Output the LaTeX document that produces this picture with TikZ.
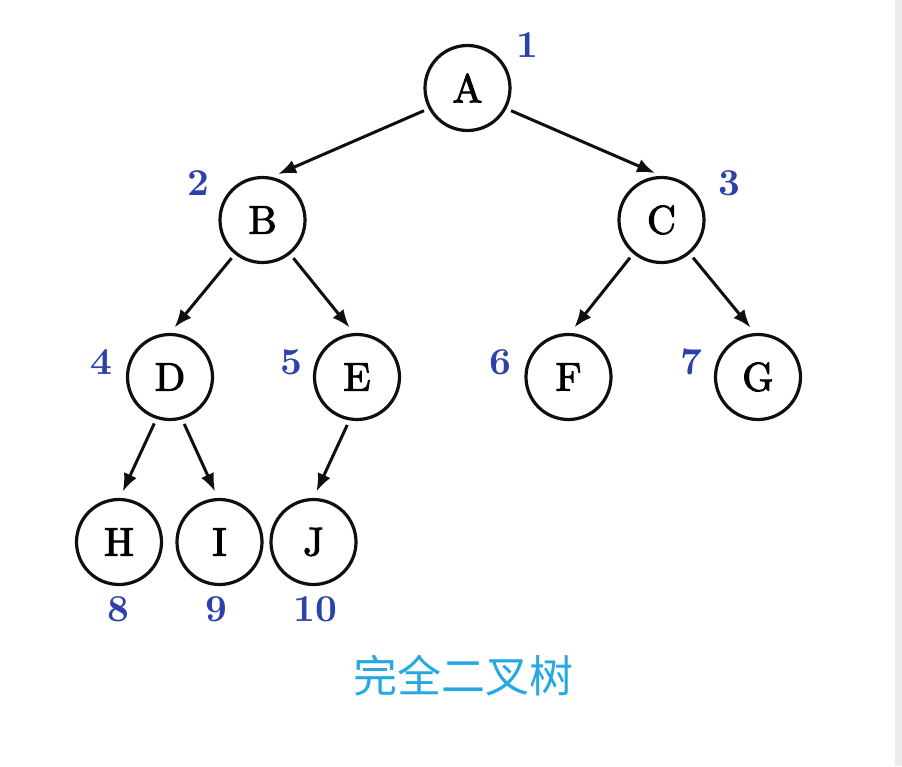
\documentclass[tikz,border=0pt]{standalone}
\usepackage{fontspec}
\newfontfamily\cjkfont{Noto Sans CJK SC}
\newfontfamily\letterfont[Extension=.otf,FakeBold=2.5]{lmroman10-regular}
\newfontfamily\numfont[Extension=.otf]{lmroman10-bold}
\usetikzlibrary{arrows.meta}
\definecolor{numblue}{RGB}{44,66,168}
\definecolor{titleblue}{RGB}{38,168,226}
\definecolor{linegray}{RGB}{15,15,15}
\definecolor{stripe}{RGB}{235,235,235}
\tikzset{
  treenode/.style={circle,draw=linegray,line width=3.2pt,minimum size=85pt,inner sep=0pt,
    font=\letterfont\fontsize{40}{40}\selectfont,text=black},
  numlabel/.style={font=\numfont\fontsize{38}{38}\selectfont,text=numblue,inner sep=0pt},
  edge/.style={draw=linegray,line width=3pt,-{Latex[length=18pt,width=14pt]},
    shorten <=5pt,shorten >=7pt},
}
\begin{document}
\begin{tikzpicture}[x=1pt,y=-1pt]
\useasboundingbox (0,0) rectangle (902,766);
\fill[white] (0,0) rectangle (902,766);
\fill[stripe] (895,0) rectangle (902,766);
% nodes
\node[treenode] (A) at (467.5,88) {A};
\node[treenode] (B) at (262.5,220) {B};
\node[treenode] (C) at (661.5,220) {C};
\node[treenode] (D) at (170,377) {D};
\node[treenode] (E) at (357,377) {E};
\node[treenode] (F) at (568.5,377) {F};
\node[treenode] (G) at (758,377) {G};
\node[treenode] (H) at (119,542) {H};
\node[treenode] (I) at (219.5,542) {I};
\node[treenode] (J) at (313.5,542) {J};
% numbers
\node[numlabel] (n1) at (527,45) {1};
\node[numlabel] (n2) at (198,183) {2};
\node[numlabel] (n3) at (729,183) {3};
\node[numlabel] (n4) at (101,362) {4};
\node[numlabel] (n5) at (291,362) {5};
\node[numlabel] (n6) at (500,362) {6};
\node[numlabel] (n7) at (691,362) {7};
\node[numlabel] (n8) at (118,609) {8};
\node[numlabel] (n9) at (216,609) {9};
\node[numlabel] (n10) at (315,609) {10};
% title
\node[font=\cjkfont\fontsize{44}{44}\selectfont,text=titleblue,inner sep=0pt] (title) at (463,676) {完全二叉树};
% edges
\draw[edge] (A.208) -- (B.78);
\draw[edge] (A.332) -- (C.90);
\draw[edge] (B.231) -- (D.90);
\draw[edge] (B.309) -- (E.94);
\draw[edge] (C.230) -- (F.88);
\draw[edge] (C.310) -- (G.94);
\draw[edge] (D.252) -- (H.89);
\draw[edge] (D.286) -- (I.92);
\draw[edge] (E.260) -- (J.90);
\end{tikzpicture}
\end{document}
